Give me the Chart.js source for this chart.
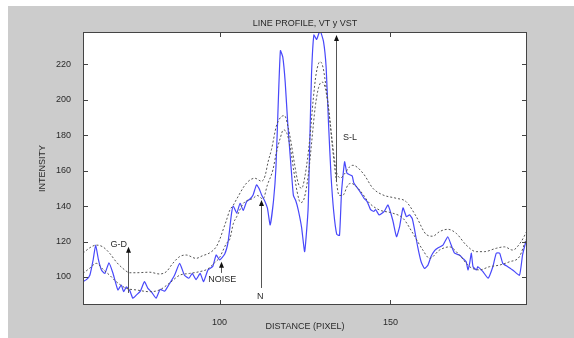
<!DOCTYPE html>
<html>
<head>
<meta charset="utf-8">
<script src="https://cdn.jsdelivr.net/npm/chart.js@4.4.1/dist/chart.umd.min.js"></script>
<style>
  html, body { margin: 0; padding: 0; background: #fff; }
</style>
</head>
<body>
<canvas id="chart1" width="574" height="338"></canvas>
<script>
// perfil de linha (azul)
var profileX = [60, 61, 62, 63, 63.7, 64.5, 65.4, 66.4, 67.6, 68.8, 70.2, 71.2, 71.9, 72.7, 73.7, 74.6, 75.6, 76.8, 78, 79,
  80, 81.4, 82.6, 83.9, 85.1, 86.8, 88.3, 89.7, 91, 92, 93.1, 94.3, 95.3, 96.6, 98, 99, 100, 101.5, 102.5, 103.5,
  104, 105, 106, 106.9, 107.9, 108.9, 109.8, 110.8, 111.6, 112.3, 113.3, 114, 114.8, 115.8, 116.5, 117.2, 117.8, 118.5, 119.2, 120,
  121, 121.6, 122.3, 123, 124, 124.9, 125.9, 126.4, 126.9, 127.6, 128.4, 129.4, 130.4, 131.2, 131.9, 132.6, 133.4, 134.3, 135.1, 135.7,
  136.6, 137.3, 138.8, 139.3, 140.8, 142.3, 143.2, 144.2, 145.2, 145.7, 146.7, 148.2, 149.3, 150.7, 151.8, 152.7, 153.7, 154.7, 155.6, 156.4,
  157.1, 158, 159, 160, 161, 161.9, 163, 164, 165.4, 166.8, 167.8, 168.8, 170.2, 171.2, 172.2, 172.7, 173.2, 173.7, 174.2, 175.2,
  175.6, 177.1, 178.6, 180, 181, 182, 182.9, 184.4, 185.8, 187.8, 188.7, 189.7, 190]
var profileY = [97.4, 98.5, 101, 110, 118, 110, 104, 102, 108, 102, 92.7, 95.5, 91.7, 94.5, 92.3, 88, 89.8, 92, 97.4, 93.6,
  91.7, 88, 93, 92, 95.5, 101, 107.7, 101, 99.3, 102, 98.5, 102, 97.4, 104, 106, 112.4, 109.6, 113, 120, 136,
  140, 136, 141.6, 137.5, 142.5, 144, 146.3, 152, 149.7, 146.3, 142.5, 138.8, 129.4, 143.4, 162, 200, 227.7, 224, 210, 185,
  160, 146, 143, 138, 128, 114.3, 138, 176, 214, 236.5, 234, 239, 233, 218, 186, 158, 137, 124, 123.5, 148,
  165, 158.5, 157, 153, 149, 144.4, 142.5, 138, 137, 138, 135, 137, 140.6, 132, 122.7, 128.4, 139, 134, 135, 133,
  126.5, 117, 108.6, 104.8, 106.7, 111.5, 115, 116.5, 118, 122.7, 118, 113.4, 112.4, 110.5, 108.6, 104, 107.7, 113.4, 105.8, 104,
  105.8, 103, 99.3, 105.8, 113.4, 113.4, 107.7, 105.8, 104, 101, 112.4, 120, 121]

// VT (pontilhado de cima)
var vtX = [60, 62, 63.9, 65.8, 67.8, 69.7, 71.7, 73.7, 75.6, 79.5, 82.4, 84.4, 86.3, 88.3, 90.2, 93.1, 95, 97, 99, 100,
  101, 102, 103, 104, 105, 107.9, 110.3, 112.3, 113.3, 114.2, 115.2, 116.6, 118.1, 119, 120, 121, 122, 123, 124, 125,
  126.4, 127.4, 128.3, 129.4, 130.3, 131.3, 132.5, 133.5, 134.4, 135.5, 136.5, 138, 139, 142, 144.9, 147.8, 151.7, 154.6, 157.6, 160.5,
  162.4, 164.4, 166.8, 169.3, 172.2, 175.1, 177.5, 181, 183.4, 185.8, 188.3, 190]
var vtY = [113.4, 116.5, 118, 117, 113.4, 108.6, 104.8, 102.4, 102.4, 102.7, 101.7, 103, 107.7, 111.5, 112.4, 110.5, 112, 113.5, 117, 121,
  126.5, 132, 137.8, 140.5, 144, 153, 155.7, 154, 157, 165, 172, 185, 190.5, 191, 185, 175, 163, 153, 150, 157,
  178, 200, 215, 221.5, 218, 205, 185, 168, 158, 156, 158, 162, 163, 158.5, 150, 146.3, 144.4, 142.5, 134, 124,
  123, 125.6, 126.9, 124.6, 118, 114.3, 114.3, 116.2, 117, 115.2, 120, 126]

// VST (pontilhado de baixo)
var vstX = [60, 62, 63.9, 66, 67.8, 69.7, 72.7, 75.6, 79.5, 82.4, 85.3, 88.3, 91.2, 94.1, 96.5, 98.5, 100, 101, 102, 103,
  104, 105, 107, 109.8, 111, 112.7, 114, 115.6, 116.6, 117.7, 118.7, 119.7, 120.7, 121.7, 122.7, 123.7, 124.7, 126, 127, 128,
  129, 130, 131, 132, 133, 134, 135, 136, 137.6, 138.5, 141, 143.9, 146.8, 150.7, 153.7, 156.6, 159.5, 161.5, 164.4, 167.3,
  170.2, 173.2, 176.1, 179, 181.9, 184.9, 187.8, 189.7, 190]
var vstY = [102, 105, 107.7, 104, 101, 97.4, 93.6, 92.7, 91.7, 92.7, 96.5, 101, 102, 103, 104.5, 108, 111, 115, 119, 121.5,
  130, 134, 141.6, 144.4, 146, 144, 152, 160.4, 170, 178, 183, 181, 173, 160, 148, 142, 144, 158, 177, 196,
  207, 210, 206, 193, 174, 157, 146, 146, 152, 152.8, 149, 141.6, 137.8, 136, 133.1, 124.6, 115.2, 110.5, 115.2, 117,
  112.4, 105.8, 104, 105.8, 106.7, 108.6, 111.5, 121, 122]

var xTicks = [100, 150]
var yTicks = [100, 120, 140, 160, 180, 200, 220]

// setas e rotulos
var setaX = [73.2, 100.4, 112.1, 134.0]
var setaDe = [91, 102.3, 93.8, 153.6]
var setaAte = [117, 108.6, 143.5, 236.5]
var rotuloTxt = ['G-D', 'NOISE', 'N', 'S-L']
var rotuloX = [70.5, 100.8, 111.9, 138.2]
var rotuloY = [118.3, 98.7, 89.1, 178.4]

var fonte = '"Liberation Sans", Arial, Helvetica, sans-serif'
var corTexto = '#2a2a2a'

function pontos(xs, ys) {
  var out = []
  for (var i = 0; i < xs.length; i++) out.push({ x: xs[i], y: ys[i] })
  return out
}

const figura = {
  id: 'figura',
  beforeDraw(chart) {
    const ctx = chart.ctx, a = chart.chartArea
    ctx.save()
    ctx.fillStyle = '#fff'
    ctx.fillRect(0, 0, chart.width, chart.height)
    ctx.fillStyle = '#cccccc'
    ctx.fillRect(8, 6, chart.width - 8, chart.height - 6)
    ctx.fillStyle = '#fff'
    ctx.fillRect(a.left, a.top, a.right - a.left, a.bottom - a.top)
    ctx.restore()
  },
  afterDatasetsDraw(chart) {
    const ctx = chart.ctx, a = chart.chartArea
    const xs = chart.scales.x, ys = chart.scales.y
    ctx.save()
    ctx.beginPath()
    ctx.rect(a.left, a.top, a.right - a.left, a.bottom - a.top)
    ctx.clip()
    for (var i = 0; i < setaX.length; i++) {
      var px = Math.round(xs.getPixelForValue(setaX[i])) + 0.5
      var p0 = ys.getPixelForValue(setaDe[i])
      var p1 = ys.getPixelForValue(setaAte[i])
      ctx.strokeStyle = '#555'
      ctx.lineWidth = 1
      ctx.beginPath()
      ctx.moveTo(px, p0)
      ctx.lineTo(px, p1 + 5)
      ctx.stroke()
      ctx.fillStyle = '#111'
      ctx.beginPath()
      ctx.moveTo(px, p1)
      ctx.lineTo(px - 2.5, p1 + 6)
      ctx.lineTo(px + 2.5, p1 + 6)
      ctx.closePath()
      ctx.fill()
    }
    ctx.fillStyle = corTexto
    ctx.font = '9px ' + fonte
    ctx.textAlign = 'center'
    ctx.textBaseline = 'middle'
    for (var j = 0; j < rotuloTxt.length; j++) {
      ctx.fillText(rotuloTxt[j], xs.getPixelForValue(rotuloX[j]), ys.getPixelForValue(rotuloY[j]))
    }
    ctx.restore()
  },
  afterDraw(chart) {
    const ctx = chart.ctx, a = chart.chartArea
    const xs = chart.scales.x, ys = chart.scales.y
    ctx.save()
    ctx.strokeStyle = '#444'
    ctx.lineWidth = 1
    ctx.strokeRect(a.left + 0.5, a.top + 0.5, a.right - a.left - 1, a.bottom - a.top - 1)
    ctx.beginPath()
    xTicks.forEach(function (v) {
      var px = Math.round(xs.getPixelForValue(v)) + 0.5
      ctx.moveTo(px, a.bottom); ctx.lineTo(px, a.bottom - 5)
      ctx.moveTo(px, a.top); ctx.lineTo(px, a.top + 5)
    })
    yTicks.forEach(function (v) {
      var py = Math.round(ys.getPixelForValue(v)) + 0.5
      ctx.moveTo(a.left, py); ctx.lineTo(a.left + 5, py)
      ctx.moveTo(a.right, py); ctx.lineTo(a.right - 5, py)
    })
    ctx.stroke()

    ctx.fillStyle = corTexto
    ctx.textAlign = 'center'
    ctx.textBaseline = 'middle'
    ctx.font = '9px ' + fonte
    ctx.fillText('LINE PROFILE, VT y VST', (a.left + a.right) / 2, 23.5)
    ctx.fillText('DISTANCE (PIXEL)', (a.left + a.right) / 2, 326.5)
    ctx.translate(43, (a.top + a.bottom) / 2)
    ctx.rotate(-Math.PI / 2)
    ctx.fillText('INTENSITY', 0, 0)
    ctx.restore()
  }
}

const config = {
  type: 'line',
  data: {
    datasets: [
      {
        label: 'VT',
        data: pontos(vtX, vtY),
        borderColor: '#555',
        borderWidth: 1,
        borderDash: [2, 2],
        pointRadius: 0,
        cubicInterpolationMode: 'monotone'
      },
      {
        label: 'VST',
        data: pontos(vstX, vstY),
        borderColor: '#555',
        borderWidth: 1,
        borderDash: [2, 2],
        pointRadius: 0,
        cubicInterpolationMode: 'monotone'
      },
      {
        label: 'Line profile',
        data: pontos(profileX, profileY),
        borderColor: 'rgb(72, 72, 250)',
        borderWidth: 1.2,
        pointRadius: 0,
        tension: 0.15
      }
    ]
  },
  options: {
    responsive: false,
    animation: false,
    devicePixelRatio: 1,
    layout: { padding: { left: 0, right: 47, top: 32, bottom: 0 } },
    plugins: {
      legend: { display: false },
      title: { display: false },
      tooltip: { enabled: false }
    },
    scales: {
      x: {
        type: 'linear',
        min: 60,
        max: 190,
        grid: { display: false },
        border: { display: false },
        afterBuildTicks: function (s) { s.ticks = xTicks.map(function (v) { return { value: v } }) },
        afterFit: function (s) { s.height = 33 },
        ticks: { color: corTexto, font: { family: fonte, size: 9 }, padding: 4, maxRotation: 0 }
      },
      y: {
        type: 'linear',
        min: 84.2,
        max: 238.2,
        grid: { display: false },
        border: { display: false },
        afterBuildTicks: function (s) { s.ticks = yTicks.map(function (v) { return { value: v } }) },
        afterFit: function (s) { s.width = 83 },
        ticks: { color: corTexto, font: { family: fonte, size: 9 }, padding: 4 }
      }
    }
  },
  plugins: [figura]
}

const myChart = new Chart(document.getElementById('chart1'), config)
</script>
</body>
</html>
